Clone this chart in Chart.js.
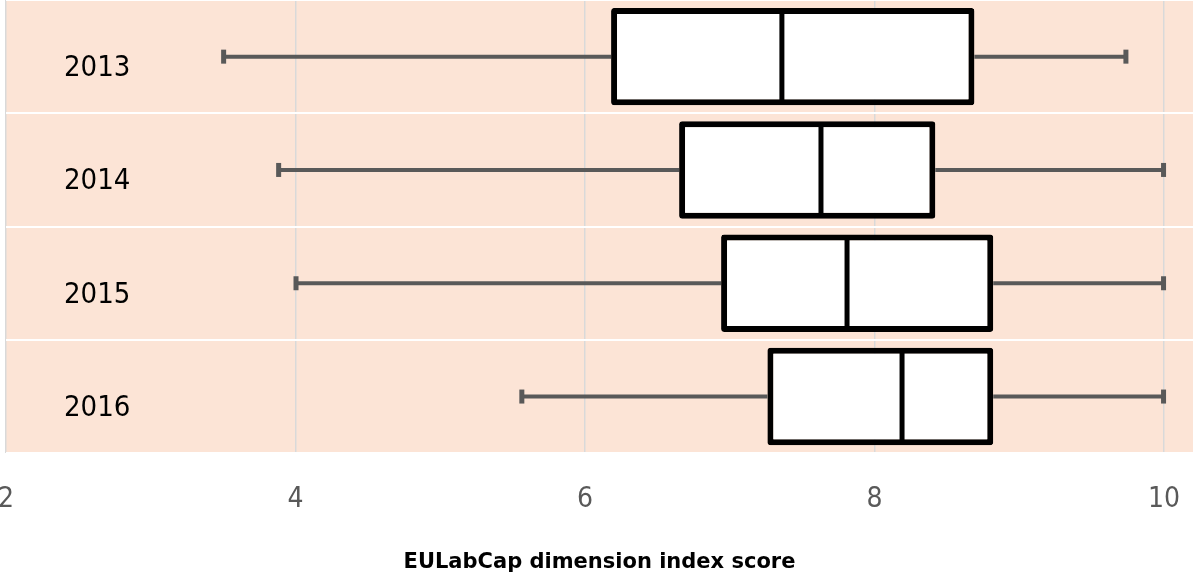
<!DOCTYPE html>
<html>
<head>
<meta charset="utf-8">
<script src="https://cdn.jsdelivr.net/npm/chart.js@4.4.1/dist/chart.umd.min.js"></script>
<style>
  body { margin: 0; background: #fff; }
  #wrap { width: 1198px; height: 578px; }
</style>
</head>
<body>
<div id="wrap"><canvas id="boxChart"></canvas></div>
<script>
const years = ['2013', '2014', '2015', '2016'];
const minValues = [3.50, 3.88, 4.00, 5.56];
const q1Values = [6.18, 6.65, 6.94, 7.26];
const medianValues = [7.36, 7.63, 7.81, 8.19];
const q3Values = [8.69, 8.42, 8.82, 8.82];
const maxValues = [9.74, 10.00, 10.00, 10.00];
const xTicks = [2, 4, 6, 8, 10];

const FONT = "'DejaVu Sans Condensed', 'DejaVu Sans', sans-serif";

// peach bands behind everything
const bandBackground = {
    id: 'bandBackground',
    beforeDraw(chart) {
        const { ctx, chartArea } = chart;
        ctx.save();
        ctx.fillStyle = '#FCE4D6';
        ctx.fillRect(chartArea.left, chartArea.top, chartArea.right - chartArea.left, chartArea.bottom - chartArea.top);
        ctx.restore();
    },
};

// whiskers go under the boxes, medians and year labels on top
const boxParts = {
    id: 'boxParts',
    beforeDatasetsDraw(chart) {
        const { ctx } = chart;
        const x = chart.scales.x;
        const y = chart.scales.y;
        ctx.save();
        ctx.strokeStyle = '#595959';
        ctx.fillStyle = '#595959';
        ctx.lineWidth = 4;
        years.forEach((yr, i) => {
            const cy = y.getPixelForValue(i);
            const xMin = x.getPixelForValue(minValues[i]);
            const xQ1 = x.getPixelForValue(q1Values[i]);
            const xQ3 = x.getPixelForValue(q3Values[i]);
            const xMax = x.getPixelForValue(maxValues[i]);
            ctx.beginPath();
            ctx.moveTo(xMin, cy);
            ctx.lineTo(xQ1, cy);
            ctx.moveTo(xQ3, cy);
            ctx.lineTo(xMax, cy);
            ctx.stroke();
            ctx.fillRect(xMin - 2, cy - 7, 5, 14);
            ctx.fillRect(xMax - 3, cy - 7, 5, 14);
        });
        ctx.restore();
    },
    afterDatasetsDraw(chart) {
        const { ctx, chartArea } = chart;
        const x = chart.scales.x;
        const y = chart.scales.y;
        const bars = chart.getDatasetMeta(0).data;
        ctx.save();
        ctx.strokeStyle = '#000';
        ctx.lineWidth = 5;
        bars.forEach((bar, i) => {
            const xm = x.getPixelForValue(medianValues[i]);
            const h = bar.height;
            ctx.beginPath();
            ctx.moveTo(xm, bar.y - h / 2 + 2);
            ctx.lineTo(xm, bar.y + h / 2 - 2);
            ctx.stroke();
        });
        ctx.fillStyle = '#000';
        ctx.font = '29px ' + FONT;
        ctx.textAlign = 'left';
        ctx.textBaseline = 'middle';
        years.forEach((yr, i) => {
            ctx.fillText(yr, chartArea.left + 58, y.getPixelForValue(i) + 12);
        });
        ctx.restore();
    },
};

new Chart(document.getElementById('boxChart'), {
    type: 'bar',
    data: {
        labels: years,
        datasets: [{
            label: 'IQR',
            data: years.map((_, i) => [q1Values[i], q3Values[i]]),
            backgroundColor: '#FFFFFF',
            borderColor: '#000000',
            borderWidth: 6,
            borderSkipped: false,
            borderRadius: 3,
            barPercentage: 0.86,
            categoryPercentage: 1,
        }],
    },
    options: {
        indexAxis: 'y',
        responsive: true,
        maintainAspectRatio: false,
        animation: false,
        layout: { padding: { left: 0, right: 5, top: 0, bottom: 0 } },
        plugins: {
            legend: { display: false },
            tooltip: { enabled: false },
        },
        scales: {
            x: {
                min: 2,
                max: 10.2,
                afterBuildTicks: (axis) => {
                    axis.ticks = xTicks.map(v => ({ value: v }));
                },
                afterFit: (axis) => {
                    // the "2" label is allowed to run off the left edge
                    axis.paddingLeft = 6;
                },
                grid: {
                    color: '#D9D9D9',
                    lineWidth: 1.5,
                    drawTicks: true,
                    tickLength: 27,
                    tickColor: 'rgba(0,0,0,0)',
                },
                border: { display: false },
                ticks: {
                    color: '#595959',
                    font: { family: FONT, size: 28 },
                    padding: 3,
                    maxRotation: 0,
                },
                title: {
                    display: true,
                    text: 'EULabCap dimension index score',
                    color: '#000',
                    font: { family: "'DejaVu Sans', sans-serif", size: 21, weight: 'bold' },
                    padding: { top: 30, bottom: 3 },
                },
            },
            y: {
                grid: { color: '#FFFFFF', lineWidth: 2, drawTicks: false, offset: true },
                border: { display: false },
                ticks: { display: false },
            },
        },
    },
    plugins: [bandBackground, boxParts],
});
</script>
</body>
</html>
